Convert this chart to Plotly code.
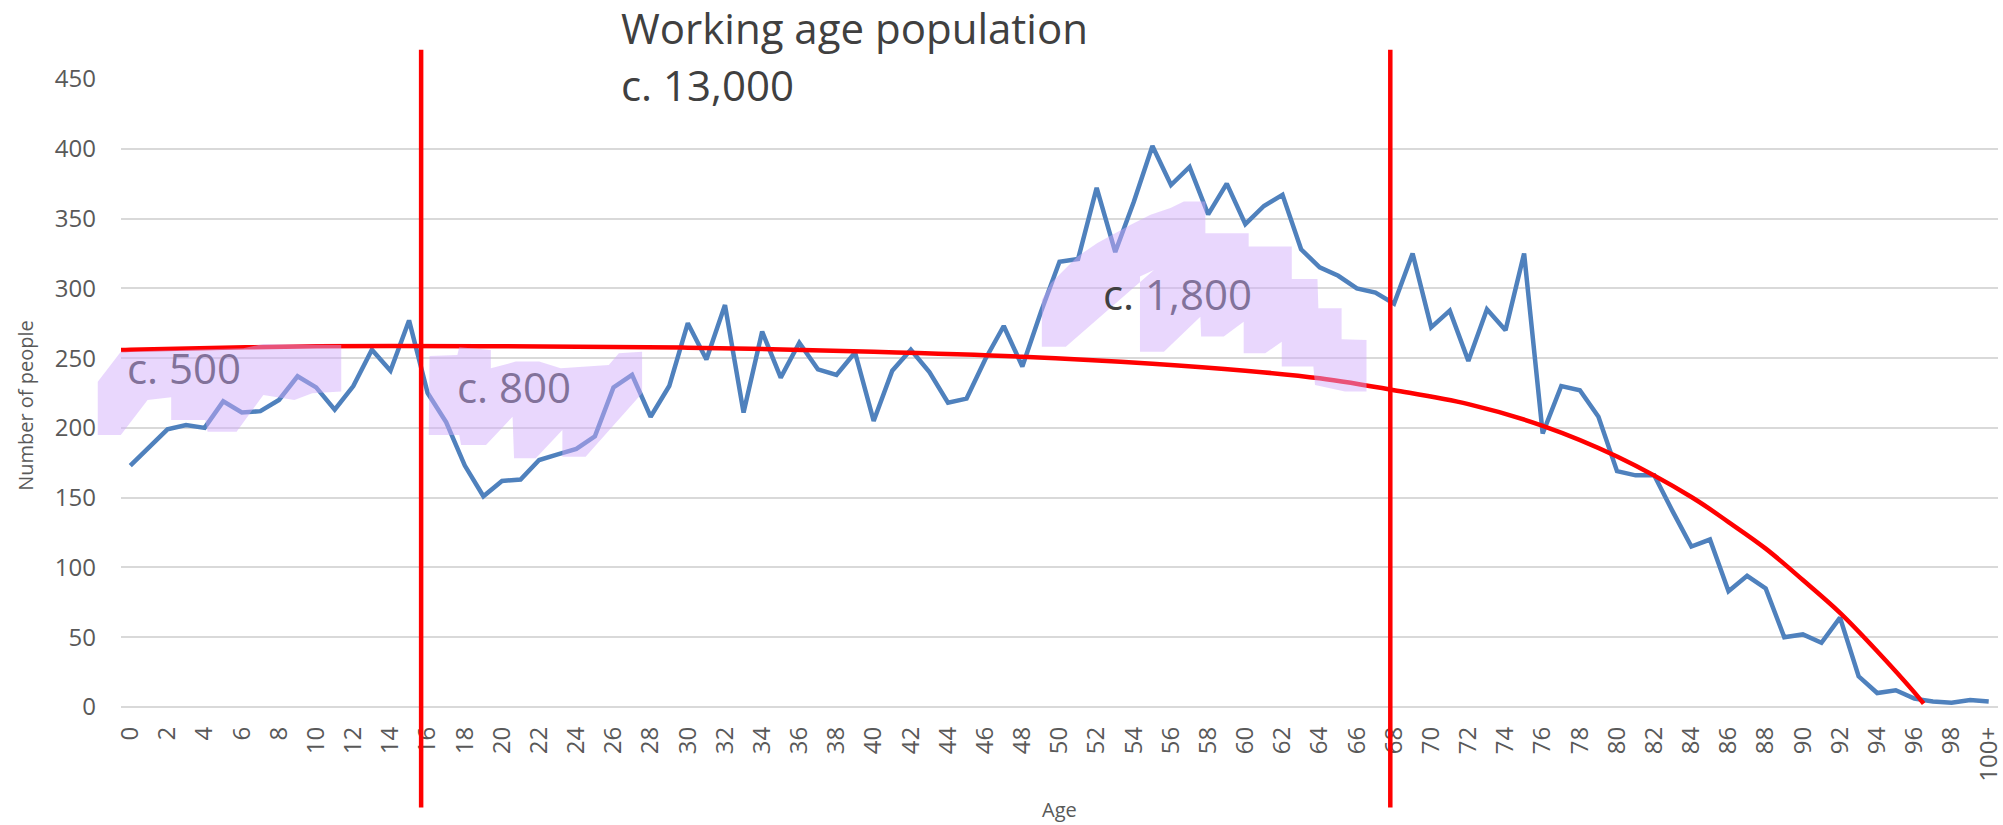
import plotly.graph_objects as go

# ---------------- data ----------------
ages = list(range(101))
age_labels = [str(a) for a in range(100)] + ["100+"]
population = [173, 186, 199, 202, 200, 219, 211, 212, 220, 237,
              229, 213, 230, 256, 241, 277, 225, 204, 173, 151,
              162, 163, 177, 181, 185, 194, 229, 238, 208, 230,
              275, 249, 288, 211, 269, 236, 261, 242, 238, 254,
              205, 241, 256, 240, 218, 221, 249, 273, 244, 283,
              319, 321, 372, 326, 362, 402, 374, 387, 353, 375,
              346, 359, 367, 328, 315, 309, 300, 297, 289, 325,
              272, 284, 248, 285, 270, 325, 196, 230, 227, 208,
              169, 166, 166, 140, 115, 120, 83, 94, 85, 50,
              52, 46, 64, 22, 10, 12, 6, 4, 3, 5, 4]

trend_ages = [-0.5, 0, 10, 20, 30, 40, 48, 55, 60, 64, 68, 72, 76, 80,
              84, 86, 88, 90, 92, 94, 96, 96.5]
trend_values = [255.8, 256, 258.5, 258.5, 257.5, 254.5, 251, 246, 241, 235.5,
                227, 217, 201.5, 179.5, 150.5, 132.5, 113.5, 91, 67.5, 40, 10.5, 2.4]

divider_ages = [15.65, 67.8]
divider_span = [-72, 471]

y_ticks = list(range(0, 451, 50))

# hand-drawn highlighter strokes (age, number of people)
hl_500_age = [-1.75, -0.51, 0.93, 2.2, 2.2, 4.04, 4.16, 5.72, 7.16, 8.83, 9.79,
              11.35, 11.35, 7.16, 6.08, -0.51, -1.75]
hl_500_val = [194.9, 194.9, 220, 221.9, 205.6, 205.6, 197.3, 197.3, 223.6, 220,
              224.8, 226, 259.4, 260.2, 257, 254.6, 233.1]
hl_800_age = [16.06, 17.7, 17.8, 19.14, 20.57, 20.65, 21.82, 23.25, 23.25, 24.5,
              27.54, 27.54, 26.29, 25.75, 23.16, 22.0, 20.74, 19.4, 19.4, 17.7,
              17.6, 16.1]
hl_800_val = [194.9, 194.9, 187.7, 187.7, 208, 178.2, 178.2, 198.5, 179.3, 179.3,
              224.8, 254.6, 253.5, 245.1, 242.7, 247.5, 247.5, 242.7, 255.9, 257.8,
              252.3, 251.6]
hl_1800_age = [49.05, 50.34, 55.08, 54.33, 54.33, 55.62, 57.58, 57.62, 58.84, 59.91,
               59.91, 61.07, 61.96, 61.96, 63.66, 63.75, 65.36, 66.52, 66.52, 65.18,
               65.18, 63.93, 63.88, 62.5, 62.5, 60.18, 60.18, 57.85, 57.85, 56.69,
               55.97, 54.9, 53.83, 52.04, 50.97, 49.53, 49.05]
hl_1800_val = [258.2, 258.2, 313.2, 308.4, 254.6, 254.6, 279.7, 265.4, 265.4, 276.1,
               253.5, 253.5, 261.8, 243.9, 243.9, 230.7, 226, 226, 263, 263.5,
               285.8, 285.8, 306.6, 306.6, 329.9, 329.9, 339.5, 339.5, 362.2, 362.2,
               357.5, 352.7, 345.5, 332.4, 322.8, 303.7, 291.7]

region_texts = ["c. 500", "c. 800", "<span style='color:#404040'>c. </span>1,800"]
title_lines = ["Working age population", "c. 13,000"]

# ---------------- layout helpers ----------------
X_RANGE = [-0.5, 100.5]
Y_RANGE = [0, 450]


def px(age):
    return (age - X_RANGE[0]) / (X_RANGE[1] - X_RANGE[0])


def py(val):
    return (val - Y_RANGE[0]) / (Y_RANGE[1] - Y_RANGE[0])


def poly_path(a_list, v_list):
    pts = [f"{px(a):.5f},{py(v):.5f}" for a, v in zip(a_list, v_list)]
    return "M " + " L ".join(pts) + " Z"


FONT = "Open Sans, Lato, DejaVu Sans, sans-serif"
BLUE = "#4F81BD"
RED = "#FF0000"
HL_FILL = "rgba(208,172,250,0.48)"
COVERED_TEXT = "#82729A"

fig = go.Figure()
fig.add_trace(go.Scatter(x=ages, y=population, mode="lines",
                         line=dict(color=BLUE, width=4.5), hoverinfo="skip"))
fig.add_trace(go.Scatter(x=trend_ages, y=trend_values, mode="lines",
                         line=dict(color=RED, width=4.5, shape="spline", smoothing=1.0),
                         hoverinfo="skip"))

shapes = []
for a in divider_ages:
    shapes.append(dict(type="line", xref="x", yref="paper", x0=a, x1=a,
                       y0=py(divider_span[0]), y1=py(divider_span[1]),
                       line=dict(color=RED, width=4.5), layer="above"))
for ha, hv in [(hl_500_age, hl_500_val), (hl_800_age, hl_800_val), (hl_1800_age, hl_1800_val)]:
    shapes.append(dict(type="path", xref="paper", yref="paper", path=poly_path(ha, hv),
                       fillcolor=HL_FILL, line=dict(width=0), layer="above"))

annotations = []
# title lines
annotations.append(dict(text=title_lines[0], xref="paper", yref="paper",
                        x=px(26.3), y=py(487), xanchor="left", yanchor="middle",
                        showarrow=False, font=dict(family=FONT, size=42, color="#404040")))
annotations.append(dict(text=title_lines[1], xref="paper", yref="paper",
                        x=px(26.3), y=py(446), xanchor="left", yanchor="middle",
                        showarrow=False, font=dict(family=FONT, size=42, color="#404040")))
# region labels
for txt, a, v in zip(region_texts, [-0.3, 17.45, 52.25], [243, 229.5, 296]):
    annotations.append(dict(text=txt, xref="paper", yref="paper", x=px(a), y=py(v),
                            xanchor="left", yanchor="middle", showarrow=False,
                            font=dict(family=FONT, size=42, color=COVERED_TEXT)))
# axis titles
annotations.append(dict(text="Number of people", xref="paper", yref="paper",
                        x=-0.051, y=0.48, textangle=-90, xanchor="center", yanchor="middle",
                        showarrow=False, font=dict(family=FONT, size=20, color="#595959")))
annotations.append(dict(text="Age", xref="paper", yref="paper",
                        x=0.5, y=-0.163, xanchor="center", yanchor="middle",
                        showarrow=False, font=dict(family=FONT, size=20, color="#595959")))

fig.update_layout(
    width=2003, height=825,
    margin=dict(l=121, r=0, t=79, b=118, pad=0),
    paper_bgcolor="white", plot_bgcolor="white",
    showlegend=False,
    shapes=shapes, annotations=annotations,
    font=dict(family=FONT, color="#595959"),
)
fig.update_xaxes(range=X_RANGE, tickmode="array", tickvals=ages[::2], ticktext=age_labels[::2],
                 tickangle=-90, tickfont=dict(family=FONT, size=24, color="#595959"),
                 showgrid=False, zeroline=False, showline=False, ticks="",
                 ticklabelstandoff=14, ticklabeloverflow="allow", fixedrange=True)
fig.update_yaxes(range=Y_RANGE, tickmode="array", tickvals=y_ticks,
                 tickfont=dict(family=FONT, size=24, color="#595959"),
                 showgrid=True, gridcolor="#D9D9D9", gridwidth=2,
                 zeroline=True, zerolinecolor="#D9D9D9", zerolinewidth=2,
                 showline=False, ticks="", ticklabelstandoff=24, fixedrange=True)

fig.write_html("out.html", config={"displayModeBar": False},
               post_script="document.body.style.margin='0';document.body.style.overflow='hidden';")
